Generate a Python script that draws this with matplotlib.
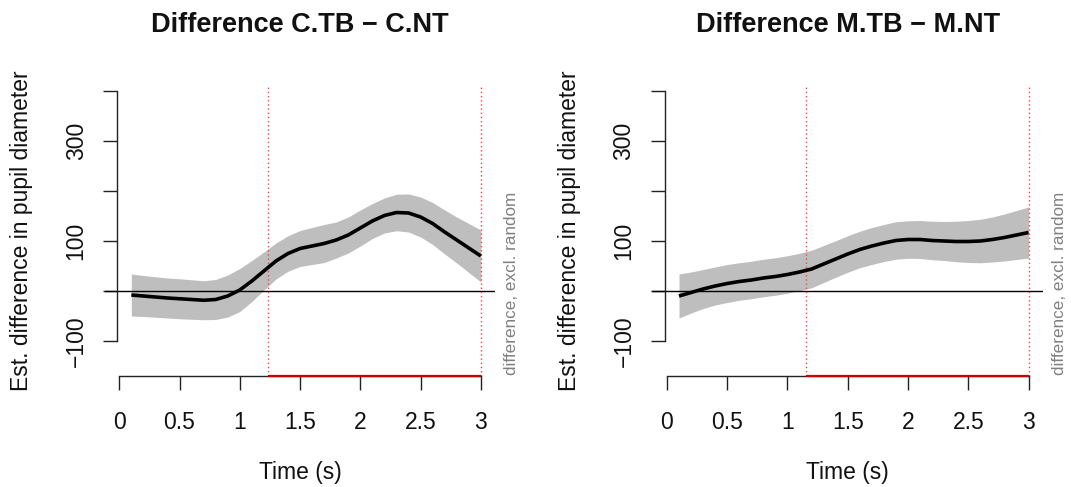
import matplotlib
matplotlib.use('Agg')
import matplotlib.pyplot as plt
import numpy as np

plt.rcParams['font.family'] = ['Liberation Sans', 'DejaVu Sans']

# ---- data ----
time = [0.1, 0.2, 0.3, 0.4, 0.5, 0.6, 0.7, 0.8, 0.9, 1.0,
        1.1, 1.2, 1.3, 1.4, 1.5, 1.6, 1.7, 1.8, 1.9, 2.0,
        2.1, 2.2, 2.3, 2.4, 2.5, 2.6, 2.7, 2.8, 2.9, 3.0]

fit_c = [-8, -10, -12, -14, -15.5, -17, -18.5, -17, -10, 2,
         20, 40, 60, 75, 85, 90, 95, 102, 112, 126,
         140, 151, 157, 156, 148, 135, 118, 102, 86, 70]
ci_c = [42, 41, 40.5, 40, 40, 39.5, 39, 40, 42, 43,
        41, 38, 36, 35.5, 36, 37, 38, 36, 36, 36,
        35, 35, 36.5, 38, 40, 42, 44, 46, 49, 52]

fit_m = [-10, -3, 4, 10, 15, 19, 22, 26, 29, 33,
         38, 44, 54, 64, 74, 83, 90, 96, 101, 103,
         103, 101, 100, 99, 99, 100, 103, 107, 112, 117]
ci_m = [44, 41, 39, 38, 38, 37.5, 37.5, 37.5, 37.5, 37.5,
        37.5, 37.5, 37, 36.5, 36.5, 36.5, 37, 37, 37.5, 37.5,
        38, 38.5, 39, 40.5, 42, 43.5, 45, 47, 49, 51]

sig_c = [1.235, 3.0]
sig_m = [1.15, 3.0]

titles = ["Difference C.TB \u2212 C.NT", "Difference M.TB \u2212 M.NT"]
xlabel = "Time (s)"
ylabel = "Est. difference in pupil diameter"
side_text = "difference, excl. random"
xticks = [0, 0.5, 1, 1.5, 2, 2.5, 3]
xticklabels = ["0", "0.5", "1", "1.5", "2", "2.5", "3"]
yticks = [-100, 0, 100, 200, 300, 400]
yticklabels = ["\u2212100", "", "100", "", "300", ""]

# ---- figure ----
W, H = 1071, 487
fig = plt.figure(figsize=(W / 100, H / 100), dpi=100)

top_px, bot_px = 86, 376
panels = [
    (104.8, fit_c, ci_c, sig_c, titles[0]),
    (652.5, fit_m, ci_m, sig_m, titles[1]),
]
width_px = 390.5
XLIM = (-0.12, 3.12)
YLIM = (-170, 410)

for left_px, fit, ci, sig, title in panels:
    ax = fig.add_axes([left_px / W, 1 - bot_px / H, width_px / W, (bot_px - top_px) / H])
    t = np.array(time)
    f = np.array(fit)
    c = np.array(ci)
    ax.fill_between(t, f - c, f + c, color='#BEBEBE', lw=0, zorder=1)
    ax.axhline(0, color='black', lw=1.0, zorder=2)
    ax.plot(t, f, color='black', lw=2.6, zorder=3, solid_capstyle='butt',
            solid_joinstyle='round')
    for s in sig:
        ax.axvline(s, color='#ff4040', lw=1.0, ls=(0, (1, 2)), zorder=2)
    ax.set_xlim(*XLIM)
    ax.set_ylim(*YLIM)
    ax.spines['top'].set_visible(False)
    ax.spines['right'].set_visible(False)
    ax.spines['left'].set_position(('data', -0.02))
    ax.spines['left'].set_bounds(-100, 400)
    ax.spines['bottom'].set_bounds(0, 3)
    for sp in ('left', 'bottom'):
        ax.spines[sp].set_linewidth(1.0)
        ax.spines[sp].set_color('#222222')
    ax.plot(sig, [YLIM[0], YLIM[0]], color='#cc0000', lw=1.6, zorder=6, clip_on=False,
            solid_capstyle='butt')
    ax.set_xticks(xticks)
    ax.set_xticklabels(xticklabels)
    ax.set_yticks(yticks)
    ax.set_yticklabels(yticklabels, rotation=90, va='center')
    ax.tick_params(axis='both', length=10, width=1.0, color='#222222',
                   labelsize=16.5, labelcolor='#111111')
    ax.tick_params(axis='x', pad=15)
    ax.tick_params(axis='y', pad=11)
    ax.set_facecolor('none')

    cx = (left_px + width_px / 2) / W
    fig.text(cx, 1 - 31.7 / H, title, ha='center', va='baseline',
             fontsize=19.5, fontweight='bold', color='#111111')
    fig.text(cx, 1 - 479 / H, xlabel, ha='center', va='baseline',
             fontsize=16.5, color='#111111')
    fig.text((left_px - 83) / W, 1 - ((top_px + bot_px) / 2) / H, ylabel,
             rotation=90, ha='center', va='center', fontsize=16.5, color='#111111')
    fig.text((left_px + width_px + 16) / W, 1 - 375 / H, side_text,
             rotation=90, ha='center', va='bottom', fontsize=12.3, color='#808080')

fig.savefig('out.png', dpi=100, facecolor='white')
